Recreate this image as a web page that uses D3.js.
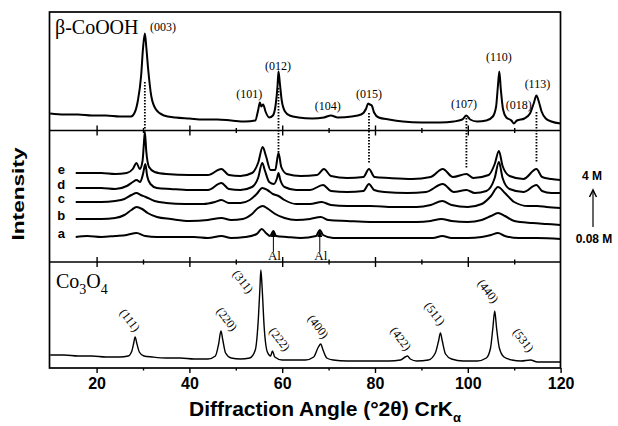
<!DOCTYPE html>
<html>
<head>
<meta charset="utf-8">
<script src="https://cdn.jsdelivr.net/npm/d3@7"></script>
<style>
  html, body { margin: 0; padding: 0; background: #fff; }
  svg { display: block; }
</style>
</head>
<body>
<div id="chart"></div>
<script>
// 2-theta ticks
const majorTicks = [20, 40, 60, 80, 100, 120];
const minorTicks = [30, 50, 70, 90, 110];

// top panel: beta-CoOOH reference, [2theta, intensity]
const cooohPattern = [
  [10, 17], [13, 16], [16, 16], [19, 15], [22, 15], [25, 14], [27.4, 14], [28.3, 19],
  [28.9, 30], [29.6, 55], [30.0, 82], [30.4, 97], [30.7, 84], [31.1, 62], [31.8, 34],
  [32.8, 21], [34.5, 15], [37, 13], [40, 12], [43, 11], [46, 11], [49, 10], [52, 9],
  [54.2, 10], [54.8, 20], [55.2, 28], [55.5, 24], [55.9, 26], [56.4, 19], [57.2, 13],
  [58.0, 15], [58.6, 26], [59.0, 45], [59.2, 59], [59.5, 47], [59.9, 30], [60.6, 19],
  [61.6, 15], [63.5, 13], [66.5, 12], [69, 13], [70.5, 15], [72, 13], [75, 14], [77, 16],
  [78.1, 22], [78.5, 27], [78.9, 26], [79.3, 25], [79.8, 18], [80.8, 13], [83, 11],
  [86, 9], [90, 8], [94, 8], [97, 9], [98.8, 11], [99.7, 15], [100.5, 11], [102, 9],
  [104, 10], [105.4, 14], [106.1, 24], [106.5, 45], [106.8, 59], [107.1, 42], [107.6, 21],
  [108.3, 13], [109.4, 10], [109.9, 7], [110.6, 10], [112.2, 12], [113.4, 17], [114.2, 27],
  [114.8, 35], [115.3, 29], [115.9, 19], [116.8, 12], [118, 9], [120, 7]
];
const cooohPeaks = ["(003)", "(101)", "(012)", "(104)", "(015)", "(107)", "(110)", "(018)", "(113)"];
const cooohLabelAngle = [31.5, 52.9, 59.1, 69.8, 78.7, 99.2, 106.7, 111.0, 115.0];
const cooohLabelLevel = [99.5, 32.5, 60.5, 20.5, 32.5, 22.5, 69.5, 21.5, 42.5];

// dotted guides from the CoOOH peaks down to trace e
const guideAngles = [30.4, 59.2, 78.7, 99.7, 114.8];
const guideFrom = [48.5, 42.5, 17.5, 12.5, 18.5];
const guideTo = [130, 107, 98, 94, 99];

// middle panel: samples a..e, intensity relative to each trace's own baseline
const traceNames = ["a", "b", "c", "d", "e"];
const traceA = [
  [15.5, 0], [18, 1], [21, 0], [24, 1], [26.5, 2], [28.6, 4], [30.5, 1], [33, 0], [37, 0],
  [41, 0], [44, -1], [46.9, 1], [49, -1], [52, 0], [54.5, 3], [55.6, 8], [56.5, 4],
  [57.4, 1], [58.1, 6], [58.7, 1], [61, 0], [64, -1], [67.3, 1], [68.1, 7], [68.8, 2],
  [71, -1], [75, -1], [79, -1], [84, -1], [89, -1], [92.5, -1], [94.5, 1], [96.5, -1],
  [100, -1], [103, 0], [105, 2], [106.5, 4], [108, 1], [111, -1], [115, -1], [120, -2]
];
const traceB = [
  [15.5, 0], [18, 0], [21, 0], [24, 1], [26, 4], [27.5, 9], [28.6, 12], [29.8, 10], [31, 6],
  [33, 2], [36, 0], [40, -2], [44, -1], [46.9, 1], [49, -1], [51.5, 0], [53.5, 5],
  [54.8, 11], [55.8, 13], [57, 10], [58.5, 5], [60.5, 1], [63, -1], [66, 0], [68.3, 2],
  [70, -1], [74, -2], [79, -3], [84, -3], [89, -3], [92, -2], [94.3, 0], [96.5, -2],
  [100, -3], [103, -1], [105, 3], [106.5, 6], [108, 3], [110, -2], [114, -4], [117, -5],
  [120, -6]
];
const traceC = [
  [15.5, 0], [18, 0], [21, 0], [24, 1], [26, 3], [27.5, 7], [28.6, 9], [29.5, 7], [30.6, 5],
  [32.5, 1], [35, -1], [39, -2], [43, -2], [45.5, 0], [46.9, 2], [48.5, -1], [51, -1],
  [53, 2], [54.5, 8], [55.7, 14], [56.8, 12], [58, 8], [59.2, 6], [60.5, 2], [63, -2],
  [66, -2], [68.5, 0], [70.5, -3], [74, -4], [79, -4], [84, -5], [89, -5], [92, -3],
  [94.5, 1], [96.5, -3], [100, -5], [103, -2], [105, 6], [106.5, 15], [108, 9], [110, 0],
  [113, -4], [115, -4], [117, -5], [120, -6]
];
const traceD = [
  [15.5, 0], [18, 0], [21, 0], [24, -1], [26.5, 2], [27.8, 6], [28.6, 8], [29.4, 6],
  [30.0, 14], [30.5, 24], [30.9, 12], [31.6, 4], [33, 0], [36, -1], [40, -2], [44, -2],
  [46.9, 5], [48.5, -1], [51, -2], [53.5, 1], [54.8, 10], [55.7, 25], [56.3, 17],
  [57.2, 6], [58.2, 4], [58.9, 10], [59.2, 15], [59.6, 8], [60.5, 1], [63, -2], [66, -2],
  [68.8, 3], [70.5, -3], [74, -4], [77.5, -3], [78.7, 4], [79.8, -2], [82, -4], [87, -5],
  [91, -4], [94.6, 4], [97, -4], [99.7, -2], [101.5, -5], [104, -3], [105.8, 10],
  [106.7, 26], [107.5, 10], [109, -1], [112, -4], [114.8, 3], [116, -3], [118, -5], [120, -5]
];
const traceE = [
  [15.5, 0], [18, 0], [21, 0], [24, -1], [26.5, 0], [27.8, 4], [28.6, 10], [29.3, 4],
  [29.9, 12], [30.2, 30], [30.4, 41], [30.7, 22], [31.3, 6], [32.5, 1], [35, -1], [40, -2],
  [44, -2], [46.9, 4], [48.5, -2], [51, -3], [53.5, 0], [54.8, 10], [55.8, 26], [56.5, 17],
  [57.5, 3], [58.5, 3], [59.2, 20], [59.8, 6], [61, -1], [64, -3], [67.5, -2], [69, 4],
  [70.5, -3], [74, -5], [77.5, -4], [78.7, 4], [79.9, -4], [83, -5], [88, -6], [92, -4],
  [94.6, 4], [96.8, -4], [99.7, -1], [101.2, -5], [104.5, -2], [105.8, 9], [106.7, 22],
  [107.5, 7], [109, -3], [112, -6], [114.8, 4], [116, -4], [118, -6], [120, -7]
];
const alAngles = [58.1, 68.1];
const concLabels = ["4 M", "0.08 M"];

// bottom panel: Co3O4 reference
const co3o4Pattern = [
  [10, 13], [13, 13], [16, 12], [19, 12], [22, 11], [25, 11], [26.8, 12], [27.6, 17],
  [28.0, 25], [28.3, 31], [28.7, 24], [29.2, 16], [30.2, 12], [32, 11], [35, 10], [38, 10],
  [41, 9], [44, 9], [45.6, 12], [46.3, 24], [46.8, 37], [47.2, 28], [47.8, 15], [49, 10],
  [51, 9], [53, 10], [54.2, 18], [54.8, 45], [55.2, 80], [55.4, 98], [55.7, 78], [56.1, 42],
  [56.8, 16], [57.5, 12], [57.9, 17], [58.4, 11], [60, 8], [62.5, 8], [65, 8], [66.8, 11],
  [67.8, 21], [68.3, 24], [68.8, 18], [69.6, 10], [71, 8], [74, 7], [77, 7], [80, 7],
  [83, 7], [85.5, 8], [86.5, 11], [87.0, 12], [87.6, 9], [89, 7], [91.5, 8], [93.0, 15],
  [93.7, 27], [94.1, 35], [94.5, 27], [95.2, 14], [96.5, 9], [99, 7], [102, 7], [104, 10],
  [104.9, 20], [105.4, 40], [105.8, 57], [106.2, 40], [106.8, 20], [107.8, 11], [109.5, 8],
  [111.5, 7], [113.5, 8], [115, 6], [117, 6], [120, 6]
];
const co3o4Peaks = ["(111)", "(220)", "(311)", "(222)", "(400)", "(422)", "(511)", "(440)", "(531)"];
const co3o4LabelAngle = [27.2, 48.1, 51.6, 59.5, 67.8, 85.6, 92.9, 104.4, 112.0];
const co3o4LabelLevel = [48, 49, 86.5, 29, 41.5, 29.5, 54.5, 77, 28];

const SERIF = '"Liberation Serif", "Times New Roman", serif';
const SANS = '"Liberation Sans", Arial, sans-serif';

function drawChart() {
  const width = 618;
  const height = 426;
  // frame edges and panel dividers
  const left = 49.5, right = 560.5;
  const top = 12, div1 = 130.5, div2 = 262, bottom = 368;

  const svg = d3.select("#chart").append("svg")
    .attr("width", width)
    .attr("height", height);

  const x = d3.scaleLinear().domain([10, 120]).range([50.2, 560.6]);
  const yTop = d3.scaleLinear().domain([0, 118.5]).range([div1, top]);
  const yMid = d3.scaleLinear().domain([0, 131.5]).range([div2, div1]);
  const yBot = d3.scaleLinear().domain([0, 106]).range([bottom, div2]);

  const lineFor = (ys, offset) => d3.line()
    .x(d => x(d[0]))
    .y(d => ys(d[1] + offset))
    .curve(d3.curveMonotoneX);

  // patterns
  svg.append("path")
    .datum(cooohPattern)
    .attr("fill", "none")
    .attr("stroke", "#000")
    .attr("stroke-width", 2)
    .attr("stroke-linejoin", "round")
    .attr("d", lineFor(yTop, 0));

  const stackOffsets = [25, 43, 60, 74, 89];
  const traces = [traceA, traceB, traceC, traceD, traceE];
  traces.forEach((t, i) => {
    svg.append("path")
      .datum(t)
      .attr("fill", "none")
      .attr("stroke", "#000")
      .attr("stroke-width", 2)
      .attr("stroke-linejoin", "round")
      .attr("d", lineFor(yMid, stackOffsets[i]));

    svg.append("text")
      .attr("x", x(12.4))
      .attr("y", yMid(stackOffsets[i]) + 1)
      .attr("text-anchor", "middle")
      .style("font-family", SANS)
      .style("font-weight", "bold")
      .style("font-size", "13px")
      .text(traceNames[i]);
  });

  svg.append("path")
    .datum(co3o4Pattern)
    .attr("fill", "none")
    .attr("stroke", "#000")
    .attr("stroke-width", 1.4)
    .attr("stroke-linejoin", "round")
    .attr("d", lineFor(yBot, 0));

  // dotted guide lines
  guideAngles.forEach((a, i) => {
    svg.append("line")
      .attr("x1", x(a)).attr("x2", x(a))
      .attr("y1", yTop(guideFrom[i]))
      .attr("y2", yMid(guideTo[i]))
      .attr("stroke", "#000")
      .attr("stroke-width", 1.8)
      .attr("stroke-dasharray", "1.5,1.5");
  });

  // frame + dividers
  svg.append("rect")
    .attr("x", left).attr("y", top)
    .attr("width", right - left).attr("height", bottom - top)
    .attr("fill", "none")
    .attr("stroke", "#000")
    .attr("stroke-width", 1.7);

  [div1, div2].forEach(yy => {
    svg.append("line")
      .attr("x1", left).attr("x2", right)
      .attr("y1", yy).attr("y2", yy)
      .attr("stroke", "#000")
      .attr("stroke-width", 1.7);

    // ticks cross the dividers
    [d3.axisTop, d3.axisBottom].forEach(ax => {
      const gMaj = svg.append("g")
        .attr("transform", `translate(0,${yy})`)
        .call(ax(x).tickValues(majorTicks.filter(v => v < 120)).tickSize(5).tickFormat(""));
      const gMin = svg.append("g")
        .attr("transform", `translate(0,${yy})`)
        .call(ax(x).tickValues(minorTicks).tickSize(2.5).tickFormat(""));
      [gMaj, gMin].forEach(g => {
        g.select(".domain").remove();
        g.selectAll("line").attr("stroke-width", 1.4);
      });
    });
  });

  // bottom axis
  const xAxis = svg.append("g")
    .attr("transform", `translate(0,${bottom})`)
    .call(d3.axisBottom(x).tickValues(majorTicks).tickSize(5).tickPadding(5).tickFormat(d3.format("d")));
  xAxis.select(".domain").remove();
  xAxis.selectAll("line").attr("stroke-width", 1.4);
  xAxis.selectAll("text")
    .style("font-family", SANS)
    .style("font-weight", "bold")
    .style("font-size", "16px")
    .attr("fill", "#000");

  const xMinor = svg.append("g")
    .attr("transform", `translate(0,${bottom})`)
    .call(d3.axisBottom(x).tickValues(minorTicks).tickSize(2.5).tickFormat(""));
  xMinor.select(".domain").remove();
  xMinor.selectAll("line").attr("stroke-width", 1.4);

  // axis titles
  const xTitle = svg.append("text")
    .attr("x", 325)
    .attr("y", 416)
    .attr("text-anchor", "middle")
    .style("font-family", SANS)
    .style("font-weight", "bold")
    .style("font-size", "21px");
  xTitle.append("tspan").text("Diffraction Angle (°2θ) CrK");
  xTitle.append("tspan")
    .attr("dy", 6)
    .style("font-size", "13px")
    .text("α");

  svg.append("text")
    .attr("transform", "translate(24,194) rotate(-90)")
    .attr("text-anchor", "middle")
    .attr("textLength", 93)
    .attr("lengthAdjust", "spacingAndGlyphs")
    .style("font-family", SANS)
    .style("font-weight", "bold")
    .style("font-size", "16px")
    .text("Intensity");

  // panel names
  svg.append("text")
    .attr("x", 55)
    .attr("y", 34)
    .style("font-family", SERIF)
    .style("font-size", "20px")
    .text("β-CoOOH");

  const coName = svg.append("text")
    .attr("x", 56)
    .attr("y", 288)
    .style("font-family", SERIF)
    .style("font-size", "20px");
  coName.append("tspan").text("Co");
  coName.append("tspan").attr("dy", 6).style("font-size", "14px").text("3");
  coName.append("tspan").attr("dy", -6).text("O");
  coName.append("tspan").attr("dy", 6).style("font-size", "14px").text("4");

  // hkl labels, top
  cooohPeaks.forEach((lbl, i) => {
    svg.append("text")
      .attr("x", x(cooohLabelAngle[i]))
      .attr("y", yTop(cooohLabelLevel[i]))
      .attr("text-anchor", i === 0 ? "start" : "middle")
      .style("font-family", SERIF)
      .style("font-size", "12px")
      .text(lbl);
  });

  // hkl labels, bottom (rotated)
  co3o4Peaks.forEach((lbl, i) => {
    svg.append("text")
      .attr("transform", `translate(${x(co3o4LabelAngle[i])},${yBot(co3o4LabelLevel[i])}) rotate(52)`)
      .attr("text-anchor", "middle")
      .attr("dy", "0.35em")
      .style("font-family", SERIF)
      .style("font-size", "12px")
      .text(lbl);
  });

  // Al reflections marked on trace a
  alAngles.forEach(a => {
    const ax = x(a);
    const tip = yMid(stackOffsets[0] + 7);
    svg.append("line")
      .attr("x1", ax).attr("x2", ax)
      .attr("y1", tip + 4).attr("y2", 252)
      .attr("stroke", "#000")
      .attr("stroke-width", 1);
    svg.append("path")
      .attr("d", `M${ax},${tip} L${ax - 2.5},${tip + 7} L${ax + 2.5},${tip + 7} Z`)
      .attr("fill", "#000");
    svg.append("text")
      .attr("x", ax + 1)
      .attr("y", 260)
      .attr("text-anchor", "middle")
      .style("font-family", SERIF)
      .style("font-size", "13px")
      .text("Al");
  });

  // concentration arrow at right
  const cx = 594;
  svg.append("text")
    .attr("x", cx - 2).attr("y", 180)
    .attr("text-anchor", "middle")
    .style("font-family", SANS)
    .style("font-weight", "bold")
    .style("font-size", "12px")
    .text(concLabels[0]);
  svg.append("text")
    .attr("x", cx).attr("y", 243)
    .attr("text-anchor", "middle")
    .style("font-family", SANS)
    .style("font-weight", "bold")
    .style("font-size", "12px")
    .text(concLabels[1]);
  svg.append("line")
    .attr("x1", cx - 1).attr("x2", cx - 1)
    .attr("y1", 227).attr("y2", 192)
    .attr("stroke", "#000")
    .attr("stroke-width", 1.2);
  svg.append("path")
    .attr("d", `M${cx - 4.5},${197} L${cx - 1},${190} L${cx + 2.5},${197}`)
    .attr("fill", "none")
    .attr("stroke", "#000")
    .attr("stroke-width", 1.5);
}

drawChart();
</script>
</body>
</html>
